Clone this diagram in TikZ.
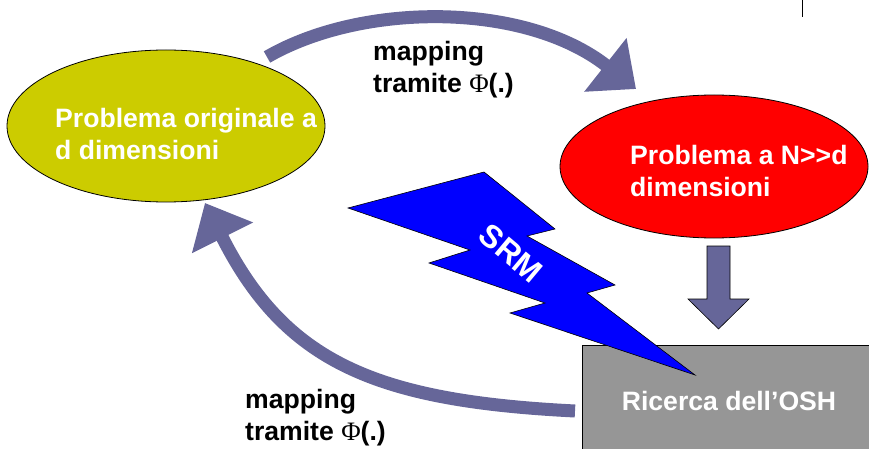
\documentclass[tikz,border=0pt]{standalone}
\usepackage{fontspec}
\setmainfont{Liberation Sans}
\newfontfamily\phifont{Liberation Serif}
\usepackage{tikz}
\usetikzlibrary{arrows.meta,shapes.geometric}

\definecolor{arrowc}{RGB}{102,102,153}
\definecolor{yelc}{RGB}{204,204,0}
\definecolor{greyc}{RGB}{150,150,150}

\begin{document}
\begin{tikzpicture}[x=1pt,y=-1pt,>={Triangle[width=66pt,length=39pt]}]
    \tikzstyle{blob}=[ellipse,draw=black,line width=0.8pt,inner sep=0pt]
    \tikzstyle{txt}=[font=\bfseries\fontsize{26.6}{32}\selectfont,align=left,inner sep=0pt]
    \tikzstyle{map}=[draw=arrowc,line width=13pt]
    \tikzstyle{block}=[fill=arrowc,draw=black,line width=0.6pt]
    \useasboundingbox (0,0) rectangle (869,449);
    \clip (0,0) rectangle (869,449);
    \node[blob,fill=yelc,minimum width=318pt,minimum height=152pt] (1) at (166,126) {};
    \node[blob,fill=red,minimum width=308pt,minimum height=143pt]  (2) at (714,166.5) {};
    \node[draw=black,fill=greyc,line width=0.8pt,minimum width=294pt,minimum height=112pt,
          txt,text=white] (3) at (729,401) {Ricerca dell’OSH};
    \node[txt,text=white,anchor=north west] (1t) at (55,108)  {Problema originale a\\d dimensioni};
    \node[txt,text=white,anchor=north west] (2t) at (630,145) {Problema a N>{}>d\\dimensioni};
    \node[txt,anchor=north west] (up)  at (373,41)  {mapping\\tramite {\phifont\mdseries Φ}(.)};
    \node[txt,anchor=north west] (low) at (245,389) {mapping\\tramite {\phifont\mdseries Φ}(.)};
    % curved arrows
    \coordinate (1a) at (267,57);
    \coordinate (2a) at (636,89);
    \coordinate (3a) at (575,411);
    \coordinate (1b) at (205,203);
    \draw[map,->] (1a) .. controls (362,2) and (525,1.5) .. (2a);
    \draw[map,->] (3a) .. controls (375,401) and (285,362) .. (1b);
    % block arrow
    \coordinate (2b) at (718.5,246);
    \draw[block] (2b) -- ++(11.5,0) -- ++(0,53) -- ++(19,0) -- ++(-30.5,30)
        -- ++(-30.5,-30) -- ++(19,0) -- ++(0,-53) -- cycle;
    % SRM
    \draw[fill=blue,draw=black,line width=0.6pt] (348,208) -- (484,172) -- (555,229) -- (527,236)
        -- (615,285) -- (587,293) -- (695,375) -- (510,313) -- (545,303) -- (429,263)
        -- (470,250) -- cycle;
    \node[txt,text=white,font=\bfseries\fontsize{32}{36}\selectfont,rotate=-40] (srm) at (511,253) {SRM};
    \draw[line width=1pt] (802,0) -- (802,17);
\end{tikzpicture}
\end{document}
